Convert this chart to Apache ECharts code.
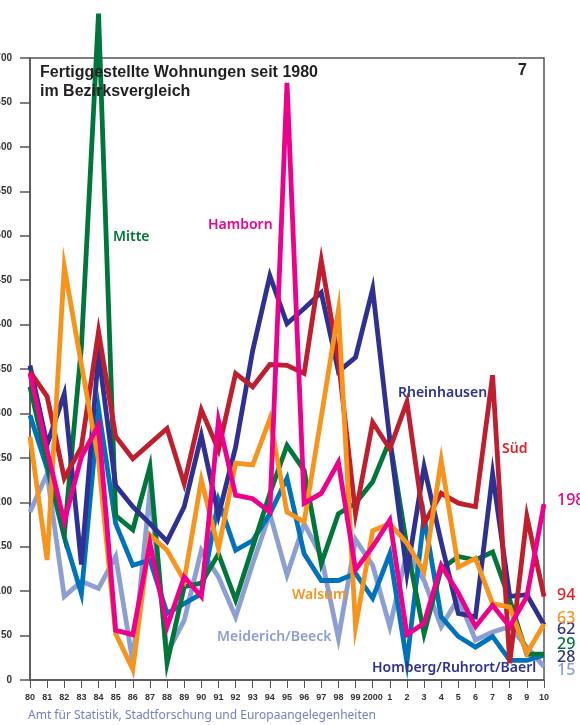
<!DOCTYPE html>
<html>
<head>
<meta charset="utf-8" />
<title>Fertiggestellte Wohnungen</title>
<style type="text/css">
html,body{margin:0;padding:0;background:#fff}
#chart{width:580px;height:725px}
</style>
<script src="https://cdn.jsdelivr.net/npm/echarts@6/dist/echarts.min.js"></script>
</head>
<body>
<div id="chart"></div>
<script type="text/javascript">
// Jahre (x-Achse)
var years = ['80','81','82','83','84','85','86','87','88','89','90','91','92','93','94','95','96','97','98','99','2000','1','2','3','4','5','6','7','8','9','10'];

// Werte je Bezirk
var sued        = [347,319,227,262,392,274,249,266,283,221,304,259,345,330,355,354,345,472,360,187,290,260,313,176,210,199,195,343,19,184,94];
var rheinhausen = [354,265,322,130,368,219,195,176,156,195,275,185,262,371,455,401,418,436,347,363,440,270,120,240,155,75,71,232,94,96,62];
var mitte       = [330,245,163,375,750,185,169,240,19,105,109,142,90,150,210,264,236,131,187,199,223,270,150,52,125,139,135,144,90,29,29];
var hamborn     = [345,258,178,251,287,56,51,154,60,116,94,292,208,204,189,672,199,210,245,124,150,180,51,64,129,98,60,84,60,94,198];
var walsum      = [274,135,465,355,247,52,12,163,146,112,225,148,244,242,294,189,178,296,416,60,168,176,154,122,247,127,137,86,82,30,63];
var homberg     = [298,238,161,97,305,176,129,135,75,86,97,202,146,157,187,227,142,112,112,120,92,142,20,184,71,49,37,49,22,22,28];
var meiderich   = [189,232,94,111,103,139,20,213,30,67,146,116,71,131,187,118,176,139,47,158,129,60,144,112,60,92,45,54,60,37,15];

var yTicks = [0,50,100,150,200,250,300,350,400,450,500,550,600,650,700];

var chart = echarts.init(document.getElementById('chart'));

//Linie erzeugen
function line(name, data, color, labelColor, dy, z){
	return {
		name: name,
		type: 'line',
		data: data,
		symbol: 'none',
		clip: false,
		z: z,
		lineStyle: {color: color, width: 4.8, join: 'miter'},
		endLabel: {
			show: true,
			distance: 13,
			offset: [0, dy],
			color: labelColor,
			fontSize: 16,
			fontWeight: 500,
			fontFamily: 'Noto Sans',
			formatter: function(p){ return p.value; }
		}
	};
}

function label(text, x, y, color){
	return {
		type: 'text', left: x, top: y, z: 100,
		style: {text: text, fill: color, font: '600 14px "Noto Sans"'}
	};
}

var option = {
	animation: false,
	grid: {left: 30, right: 36, top: 58, bottom: 45, outerBoundsMode: 'none', containLabel: false,
		show: true, borderColor: '#555', borderWidth: 1.5},
	xAxis: {
		type: 'category',
		data: years,
		boundaryGap: false,
		axisLine: {lineStyle: {color: '#555', width: 1.5}},
		axisTick: {length: 8, lineStyle: {color: '#555'}},
		axisLabel: {color: '#333', fontSize: 9, fontWeight: 'bold', margin: 13, fontFamily: 'Liberation Sans', interval: 0},
		splitLine: {show: false}
	},
	yAxis: {
		type: 'value',
		min: yTicks[0],
		max: yTicks[yTicks.length - 1],
		interval: 50,
		axisLine: {show: true, lineStyle: {color: '#555', width: 1.5}},
		axisTick: {show: true, length: 10, lineStyle: {color: '#555', width: 1.5}},
		axisLabel: {color: '#333', fontSize: 10, fontWeight: 'bold', margin: 18, fontFamily: 'Liberation Sans'},
		splitLine: {show: false}
	},
	series: [
		line('Meiderich/Beeck', meiderich, '#8c9fd3', '#8c9fd3', 4, 2),
		line('Homberg/Ruhrort/Baerl', homberg, '#0072bc', '#2e3192', 2, 3),
		line('Mitte', mitte, '#00763a', '#00763a', -10, 4),
		line('Rheinhausen', rheinhausen, '#2e3192', '#2e3192', 5, 5),
		line('Süd', sued, '#be1e2d', '#e31e24', -1, 6),
		line('Walsum', walsum, '#f7941d', '#f7941d', -6, 7),
		line('Hamborn', hamborn, '#ec008c', '#ec008c', -4, 8)
	],
	graphic: [
		{type: 'text', left: 40, top: 63, z: 100,
		 style: {text: 'Fertiggestellte Wohnungen seit 1980\nim Bezirksvergleich', fill: '#231f20', font: 'bold 16px "Liberation Sans"', lineHeight: 19}},
		{type: 'text', left: 518, top: 63, z: 100,
		 style: {text: '7', fill: '#231f20', font: 'bold 16px "Liberation Sans"'}},
		label('Mitte', 113, 230, '#00763a'),
		label('Hamborn', 208, 218, '#ec008c'),
		label('Rheinhausen', 398, 386, '#2e3192'),
		label('Süd', 502, 442, '#e31e24'),
		label('Walsum', 292, 588, '#f7941d'),
		label('Meiderich/Beeck', 217, 630, '#8c9fd3'),
		label('Homberg/Ruhrort/Baerl', 372, 661, '#2e3192'),
		{type: 'text', left: 28, top: 710, z: 100,
		 style: {text: 'Amt für Statistik, Stadtforschung und Europaangelegenheiten', fill: '#7480c4', font: '12px "Noto Sans"'}}
	]
};
chart.setOption(option);
</script>
</body>
</html>
